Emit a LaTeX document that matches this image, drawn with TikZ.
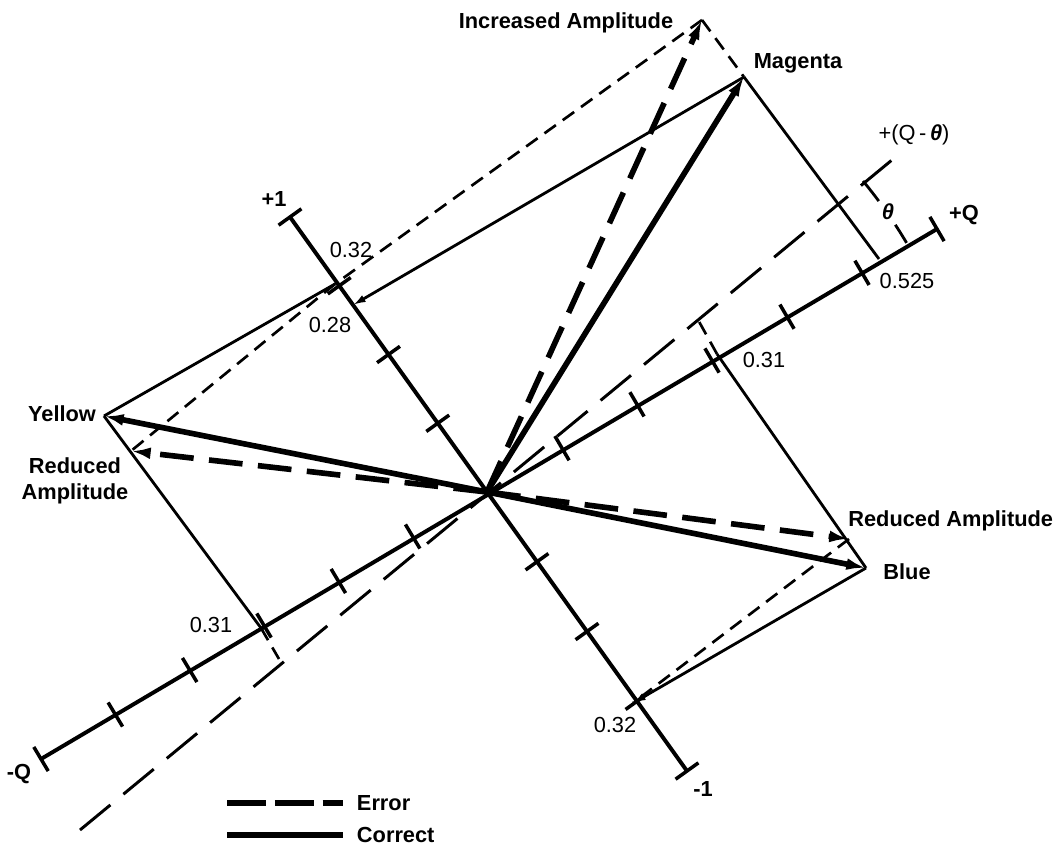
\documentclass[tikz,border=0pt]{standalone}
\usepackage{fontspec}
\setmainfont{Liberation Sans}
\usetikzlibrary{arrows.meta, calc}

\begin{document}
\begin{tikzpicture}[
  x=0.025cm, y=-0.025cm,
  font=\fontsize{15.5}{18}\selectfont,
  axisline/.style={line width=2.8pt},
  tickmark/.style={line width=2.5pt},
  projline/.style={line width=2pt},
  projerr/.style={line width=1.9pt, dash pattern=on 10pt off 6pt},
  colvec/.style={line width=4pt, -{Latex[length=14pt, width=8.5pt]}},
  errline/.style={line width=4pt, dash pattern=on 24pt off 11pt},
  errvec/.style={errline, -{Latex[length=14pt, width=8.5pt]}},
  axiserr/.style={line width=2.1pt, dash pattern=on 28pt off 12pt},
  toaxis/.style={projline, -{Latex[length=9pt, width=5.5pt]}},
  lbl/.style={font=\fontsize{15.5}{18}\selectfont\bfseries},
  num/.style={font=\fontsize{15.5}{18}\selectfont},
]
  \useasboundingbox (0,0) rectangle (1060,848);

  % axes and vector tips
  \coordinate (O) at (487,492);
  \coordinate (Qp) at (937,229);
  \coordinate (Qm) at (41,759);
  \coordinate (Ip) at (290,217);
  \coordinate (Im) at (687,771);
  \coordinate (Tp) at (898,155);
  \coordinate (Tm) at (80,830);

  \coordinate (M) at (744,77);
  \coordinate (Y) at (104,416);
  \coordinate (B) at (866,568);
  \coordinate (IA) at (702,20);
  \coordinate (YR) at (131,451);
  \coordinate (BR) at (849,539);

  \coordinate (mq) at (879,259);
  \coordinate (mi) at (353,305);
  \coordinate (yq) at (261,628);
  \coordinate (yi) at (335,284);
  \coordinate (bq) at (717,354);
  \coordinate (bi) at (633,703);
  \coordinate (yt) at (279,659);
  \coordinate (bt) at (697,318);

  \draw[axisline] (Qm) -- (Qp);
  \draw[axisline] (Ip) -- (Im);
  \draw[axiserr] (Tm) -- (Tp);

  \foreach \k in {1,...,5} {
    \draw[tickmark] ($(O)!\k/6!(Qp)!10pt!90:(Qp)$) -- ($(O)!\k/6!(Qp)!10pt!-90:(Qp)$);
    \draw[tickmark] ($(O)!\k/6!(Qm)!10pt!90:(Qm)$) -- ($(O)!\k/6!(Qm)!10pt!-90:(Qm)$);
  }
  \foreach \k in {1,2,3} {
    \draw[tickmark] ($(O)!\k/4!(Ip)!10pt!90:(Ip)$) -- ($(O)!\k/4!(Ip)!10pt!-90:(Ip)$);
    \draw[tickmark] ($(O)!\k/4!(Im)!10pt!90:(Im)$) -- ($(O)!\k/4!(Im)!10pt!-90:(Im)$);
  }
  \foreach \e in {Qp,Qm,Ip,Im}
    \draw[tickmark] ($(\e)!10pt!90:(O)$) -- ($(\e)!10pt!-90:(O)$);

  % components
  \draw[projline] (M) -- (mq);
  \draw[toaxis] (M) -- (mi);
  \draw[projline] (Y) -- (yq);
  \draw[projline] (Y) -- (yi);
  \draw[projline] (B) -- (bq);
  \draw[toaxis] (B) -- (bi);

  \draw[projerr] (IA) -- (M);
  \draw[projerr] (IA) -- (yi);
  \draw[projerr] (yi) -- (YR);
  \draw[projerr] (BR) -- (bi);
  \draw[projerr] (yq) -- (yt);
  \draw[projerr] (bq) -- (bt);

  % theta
  \draw[projline] ($(O)+(-39.6:488)$) arc[start angle=-39.6, end angle=-36.6, radius=488];
  \draw[projline] ($(O)+(-33.2:488)$) arc[start angle=-33.2, end angle=-30.7, radius=488];

  % vectors
  \draw[colvec] (O) -- (M);
  \draw[colvec] (O) -- (Y);
  \draw[colvec] (O) -- (B);
  \draw[errvec] (O) -- (IA);
  \draw[errvec] (O) -- (YR);
  \draw[errvec] (O) -- (BR);

  % labels
  \node[lbl] (lia) at (566,23) {Increased Amplitude};
  \node[lbl] (lmag) at (798,63) {Magenta};
  \node[num] (lqt) at (914,135) {+(Q\,-\,\textbf{\textit{θ}})};
  \node[lbl] (lth) at (888,212) {\textit{θ}};
  \node[lbl] (lqp) at (964,215) {+Q};
  \node[num] (lmq) at (907,281) {0.525};
  \node[num] (lbq) at (764,360) {0.31};
  \node[lbl] (lip) at (274,199) {+1};
  \node[num] (lyi) at (351,250) {0.32};
  \node[num] (lmi) at (330,325) {0.28};
  \node[lbl] (lyel) at (62,414) {Yellow};
  \node[lbl, align=center] (lyr) at (75,481) {Reduced\\Amplitude};
  \node[num] (lyq) at (211,625) {0.31};
  \node[lbl] (lqm) at (19,774) {-Q};
  \node[lbl, anchor=east] (lbr) at (1058,521) {Reduced Amplitude};
  \node[lbl] (lblue) at (907,572) {Blue};
  \node[num] (lbi) at (615,725) {0.32};
  \node[lbl] (lim) at (703,789) {-1};

  % legend
  \coordinate (ea) at (227,803);
  \coordinate (eb) at (343,803);
  \coordinate (ca) at (227,835);
  \coordinate (cb) at (343,835);
  \draw[errline, dash pattern=on 28pt off 6pt] (ea) -- (eb);
  \draw[line width=4pt] (ca) -- (cb);
  \node[lbl, anchor=west] (lerr) at (352,803) {Error};
  \node[lbl, anchor=west] (lcor) at (352,835) {Correct};
\end{tikzpicture}
\end{document}
